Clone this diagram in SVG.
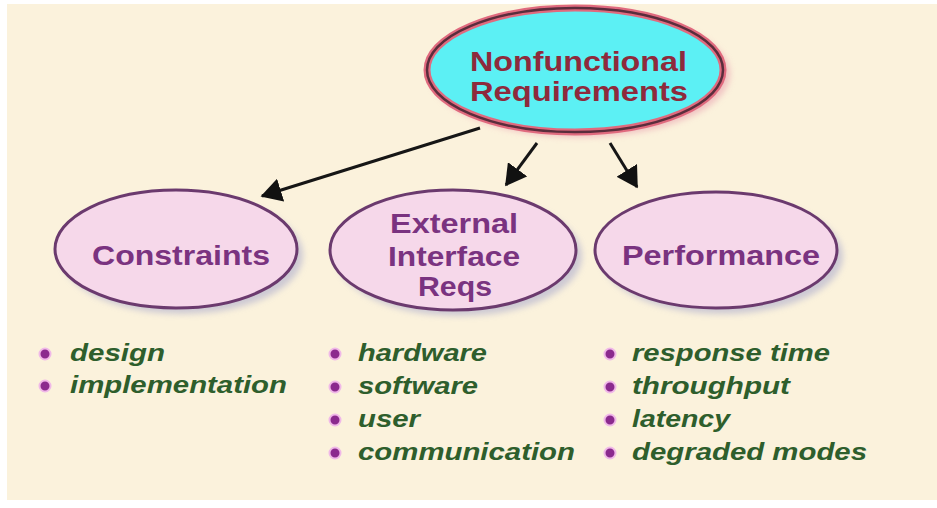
<svg xmlns="http://www.w3.org/2000/svg" width="937" height="508" viewBox="0 0 937 508">
<defs>
<style>
.sub{fill:#f6d8ea;stroke:#6b3a6e;stroke-width:3}
.shadow{fill:#b9b8d0;opacity:0.7}
.lbl{font-family:"Liberation Sans",Arial,sans-serif;font-weight:bold;font-size:28px;fill:#7a3380;text-anchor:start}
.ttl{font-family:"Liberation Sans",Arial,sans-serif;font-weight:bold;font-size:27px;fill:#8e2a3c}
.item{font-family:"Liberation Sans",Arial,sans-serif;font-weight:bold;font-style:italic;font-size:23px;fill:#2e5e2c}
.dot{fill:#8b2a8e;stroke:#f0b8e8;stroke-width:2}
.conn{stroke:#161616;stroke-width:3;fill:none}
</style>
<filter id="blur" x="-20%" y="-20%" width="140%" height="140%"><feGaussianBlur stdDeviation="3"/></filter>
<marker id="ah" markerWidth="8" markerHeight="8" refX="6.5" refY="4" orient="auto" markerUnits="strokeWidth" viewBox="0 0 8 8">
<path d="M0,0 L7,4 L0,8 z" fill="#111"/>
</marker>
</defs>
<rect x="0" y="0" width="937" height="508" fill="#ffffff"/>
<rect x="7" y="4" width="930" height="496" fill="#fbf2dc"/>

<g id="connectors">
<line class="conn" x1="480" y1="128" x2="262" y2="196" marker-end="url(#ah)"/>
<line class="conn" x1="537" y1="143" x2="506" y2="185" marker-end="url(#ah)"/>
<line class="conn" x1="610" y1="143" x2="637" y2="187" marker-end="url(#ah)"/>
</g>

<g id="nonfunctional">
<ellipse cx="580" cy="74" rx="150" ry="63" fill="#e8a0b0" opacity="0.6" filter="url(#blur)"/>
<ellipse cx="575" cy="70" rx="148" ry="62" fill="#5cf0f4" stroke="#e06a7e" stroke-width="7"/>
<ellipse cx="575" cy="70" rx="148" ry="62" fill="none" stroke="#5a2d3c" stroke-width="2.5"/>
<text class="ttl" x="470" y="71" textLength="217" lengthAdjust="spacingAndGlyphs">Nonfunctional</text>
<text class="ttl" x="470" y="101" textLength="218" lengthAdjust="spacingAndGlyphs">Requirements</text>
</g>

<g id="constraints">
<ellipse class="shadow" cx="182" cy="255" rx="121" ry="59" filter="url(#blur)"/>
<ellipse class="sub" cx="176" cy="249" rx="121" ry="59"/>
<text class="lbl" x="92" y="265" textLength="178" lengthAdjust="spacingAndGlyphs">Constraints</text>
</g>

<g id="external">
<ellipse class="shadow" cx="459" cy="256" rx="123" ry="60" filter="url(#blur)"/>
<ellipse class="sub" cx="453" cy="250" rx="123" ry="60"/>
<text class="lbl" x="390" y="233" textLength="128" lengthAdjust="spacingAndGlyphs">External</text>
<text class="lbl" x="388" y="266" textLength="132" lengthAdjust="spacingAndGlyphs">Interface</text>
<text class="lbl" x="418" y="296" textLength="74" lengthAdjust="spacingAndGlyphs">Reqs</text>
</g>

<g id="performance">
<ellipse class="shadow" cx="722" cy="256" rx="121" ry="58" filter="url(#blur)"/>
<ellipse class="sub" cx="716" cy="250" rx="121" ry="58"/>
<text class="lbl" x="622" y="265" textLength="198" lengthAdjust="spacingAndGlyphs">Performance</text>
</g>

<g id="constraints-items">
<circle class="dot" cx="45" cy="354" r="5.5"/>
<text class="item" x="70" y="361" textLength="95" lengthAdjust="spacingAndGlyphs">design</text>
<circle class="dot" cx="45" cy="386" r="5.5"/>
<text class="item" x="70" y="393" textLength="217" lengthAdjust="spacingAndGlyphs">implementation</text>
</g>

<g id="external-items">
<circle class="dot" cx="335" cy="354" r="5.5"/>
<text class="item" x="358" y="361" textLength="129" lengthAdjust="spacingAndGlyphs">hardware</text>
<circle class="dot" cx="335" cy="387" r="5.5"/>
<text class="item" x="358" y="394" textLength="120" lengthAdjust="spacingAndGlyphs">software</text>
<circle class="dot" cx="335" cy="420" r="5.5"/>
<text class="item" x="358" y="427" textLength="62" lengthAdjust="spacingAndGlyphs">user</text>
<circle class="dot" cx="335" cy="453" r="5.5"/>
<text class="item" x="358" y="460" textLength="217" lengthAdjust="spacingAndGlyphs">communication</text>
</g>

<g id="performance-items">
<circle class="dot" cx="610" cy="354" r="5.5"/>
<text class="item" x="632" y="361" textLength="198" lengthAdjust="spacingAndGlyphs">response time</text>
<circle class="dot" cx="610" cy="387" r="5.5"/>
<text class="item" x="632" y="394" textLength="158" lengthAdjust="spacingAndGlyphs">throughput</text>
<circle class="dot" cx="610" cy="420" r="5.5"/>
<text class="item" x="632" y="427" textLength="98" lengthAdjust="spacingAndGlyphs">latency</text>
<circle class="dot" cx="610" cy="453" r="5.5"/>
<text class="item" x="632" y="460" textLength="235" lengthAdjust="spacingAndGlyphs">degraded modes</text>
</g>
</svg>
